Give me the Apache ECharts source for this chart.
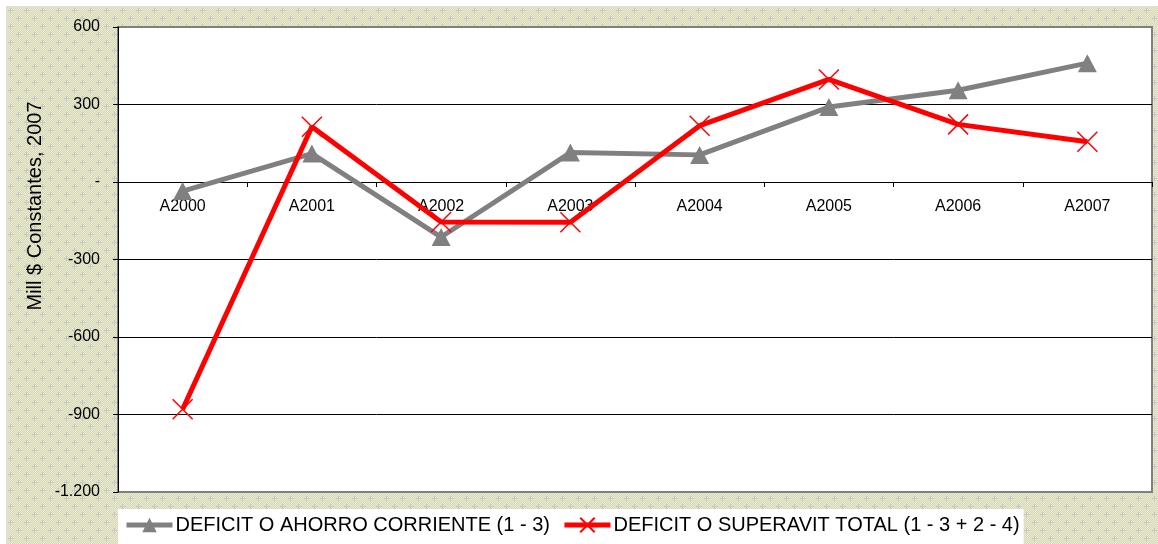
<!DOCTYPE html>
<html>
<head>
<meta charset="utf-8">
<script src="https://cdn.jsdelivr.net/npm/echarts@6/dist/echarts.min.js"></script>
<style>
  html, body { margin: 0; padding: 0; background: #fff; }
  #chart { position: absolute; left: 6px; top: 6px; width: 1152px; height: 538px; }
</style>
</head>
<body>
<div id="chart"></div>
<script>
// datos
var anios = ['A2000', 'A2001', 'A2002', 'A2003', 'A2004', 'A2005', 'A2006', 'A2007'];
var ahorroCorriente = [-35, 110, -213, 114, 105, 290, 355, 460];
var superavitTotal = [-880, 214, -155, -156, 218, 397, 223, 156];
var nombreAhorro = 'DEFICIT O AHORRO CORRIENTE (1 - 3)';
var nombreTotal = 'DEFICIT O SUPERAVIT TOTAL (1 - 3 + 2 - 4)';

// fondo tipo excel (beige con cruces)
function makePattern() {
  var c = document.createElement('canvas');
  c.width = 16; c.height = 16;
  var ctx = c.getContext('2d');
  for (var y = 0; y < 16; y++) {
    for (var x = 0; x < 16; x++) {
      ctx.fillStyle = ((x + y) % 2 === 0) ? '#ebebcf' : '#d6d6b8';
      ctx.fillRect(x, y, 1, 1);
    }
  }
  ctx.fillStyle = '#c4c4cc';
  [[4, 4], [12, 12]].forEach(function (p) {
    ctx.fillRect(p[0] - 2, p[1], 5, 1);
    ctx.fillRect(p[0], p[1] - 2, 1, 5);
  });
  return c;
}

var chart = echarts.init(document.getElementById('chart'), null, { renderer: 'canvas' });

var gridTop = 21, gridBottom = 52, alto = 538;
// el eje de categorias va en el cero
var yMin = -1200, yMax = 600;
var altoGrid = alto - gridTop - gridBottom;
var desplazamiento = -(altoGrid * (0 - yMin) / (yMax - yMin));

var option = {
  backgroundColor: { image: makePattern(), repeat: 'repeat' },
  animation: false,
  textStyle: { fontFamily: 'Liberation Sans, Arial, sans-serif' },
  grid: {
    left: 112,
    right: 6,
    top: gridTop,
    bottom: gridBottom,
    show: true,
    backgroundColor: '#fff',
    borderColor: '#808080',
    borderWidth: 2
  },
  graphic: [{
    type: 'text',
    x: 29,
    y: 200,
    rotation: Math.PI / 2,
    style: {
      text: 'Mill $ Constantes, 2007',
      font: '20px "Liberation Sans", Arial, sans-serif',
      fill: '#000',
      textAlign: 'center',
      textVerticalAlign: 'middle'
    }
  }],
  legend: {
    left: 112,
    top: 503,
    backgroundColor: '#fff',
    padding: [6, 4, 10, 6],
    itemWidth: 46,
    itemHeight: 18,
    itemGap: 12,
    lineStyle: { width: 5 },
    textStyle: { fontSize: 20, color: '#000', padding: [0, 0, 0, -2] },
    data: [nombreAhorro, nombreTotal]
  },
  xAxis: {
    type: 'category',
    data: anios,
    boundaryGap: true,
    position: 'bottom',
    offset: desplazamiento,
    axisLine: { onZero: false, lineStyle: { color: '#000', width: 1 } },
    axisTick: { show: true, length: 5, lineStyle: { color: '#000' } },
    axisLabel: { fontSize: 16, color: '#000', margin: 17 },
    splitLine: { show: false }
  },
  yAxis: {
    type: 'value',
    min: yMin,
    max: yMax,
    interval: 300,
    axisLine: { show: true, lineStyle: { color: '#000', width: 1 } },
    axisTick: { show: true, length: 5, lineStyle: { color: '#000' } },
    axisLabel: {
      fontSize: 16,
      color: '#000',
      margin: 18,
      formatter: function (v) {
        if (v === 0) return '-';
        if (v === -1200) return '-1.200';
        return String(v);
      }
    },
    splitLine: {
      show: true,
      lineStyle: { color: ['#808080', '#000', '#000', '#000', '#000', '#000', '#808080'], width: 1 }
    }
  },
  series: [
    {
      name: nombreAhorro,
      type: 'line',
      data: ahorroCorriente,
      symbol: 'triangle',
      symbolSize: [19, 18],
      lineStyle: { color: '#808080', width: 5 },
      itemStyle: { color: '#808080' },
      z: 3
    },
    {
      name: nombreTotal,
      type: 'line',
      data: superavitTotal,
      symbol: 'path://M0,0L10,10M10,0L0,10',
      symbolSize: [20, 20],
      lineStyle: { color: '#ff0000', width: 5 },
      itemStyle: { color: '#ff0000', borderColor: '#ff0000', borderWidth: 1.5 },
      z: 4
    }
  ]
};

chart.setOption(option);
</script>
</body>
</html>
